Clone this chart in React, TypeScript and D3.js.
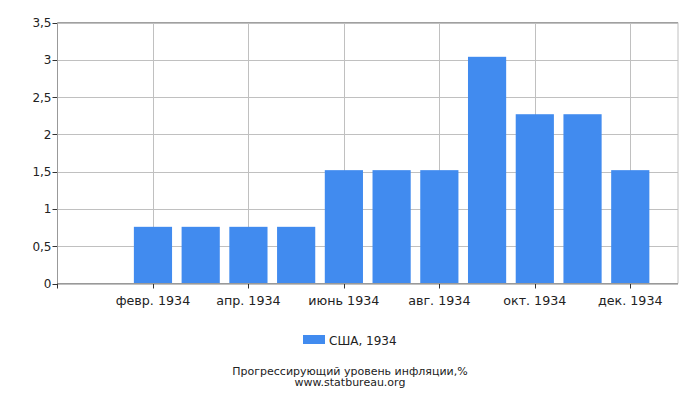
import React from "react"
import * as d3 from "d3"

const months = ["янв. 1934", "февр. 1934", "март 1934", "апр. 1934", "май 1934", "июнь 1934",
    "июль 1934", "авг. 1934", "сент. 1934", "окт. 1934", "нояб. 1934", "дек. 1934"]
const values = [0, 0.76, 0.76, 0.76, 0.76, 1.52, 1.52, 1.52, 3.04, 2.27, 2.27, 1.52]
const yTicks = [0, 0.5, 1, 1.5, 2, 2.5, 3, 3.5]
const labeledMonths = [1, 3, 5, 7, 9, 11]
const seriesName = "США, 1934"
const title = "Прогрессирующий уровень инфляции,%"
const source = "www.statbureau.org"

const W = 700, H = 400
const left = 57.5, right = 678, top = 22.5, bottom = 283.5
const barColor = "#418bef"
const font = "DejaVu Sans, sans-serif"

export default function App() {
    // months sit on a continuous axis with one empty step each side
    const x = d3.scaleLinear().domain([-1, 12]).range([left, right])
    const y = d3.scaleLinear().domain([0, 3.5]).range([bottom, top])
    const step = x(1) - x(0)
    const barW = step * 0.8
    const fmt = (v: number) => String(v).replace(".", ",")

    return (
        <svg width={W} height={H} style={{ position: "absolute", left: 0, top: 0 }} fontFamily={font}>
            <rect x={0} y={0} width={W} height={H} fill="#fff" />
            {yTicks.map(t => (
                <g key={t}>
                    <line x1={left} x2={right} y1={Math.round(y(t)) + 0.5} y2={Math.round(y(t)) + 0.5}
                        stroke="#c0c0c0" strokeWidth={1} />
                    <line x1={left - 5} x2={left} y1={Math.round(y(t)) + 0.5} y2={Math.round(y(t)) + 0.5}
                        stroke="#333" strokeWidth={1} />
                    <text x={left - 6} y={y(t) + 4.5} textAnchor="end" fontSize={12} fill="#222">{fmt(t)}</text>
                </g>
            ))}
            {labeledMonths.map(i => (
                <g key={i}>
                    <line x1={Math.round(x(i)) + 0.5} x2={Math.round(x(i)) + 0.5} y1={top} y2={bottom}
                        stroke="#c0c0c0" strokeWidth={1} />
                    <line x1={Math.round(x(i)) + 0.5} x2={Math.round(x(i)) + 0.5} y1={bottom} y2={bottom + 5}
                        stroke="#333" strokeWidth={1} />
                    <text x={x(i)} y={305} textAnchor="middle" fontSize={12.7} fill="#222">{months[i]}</text>
                </g>
            ))}
            <line x1={right} x2={right} y1={top} y2={bottom} stroke="#c0c0c0" />
            <line x1={left} x2={right} y1={top} y2={top} stroke="#a0a0a0" />
            {values.map((v, i) => v > 0 && (
                <rect key={i} x={x(i) - barW / 2} y={y(v)} width={barW} height={y(0) - y(v)} fill={barColor} />
            ))}
            <line x1={left} x2={left} y1={top} y2={bottom} stroke="#999" />
            <line x1={left} x2={right} y1={bottom} y2={bottom} stroke="#999" />
            <line x1={left} x2={left} y1={bottom} y2={bottom + 5} stroke="#333" />
            <rect x={303} y={335} width={22} height={9} fill={barColor} />
            <text x={329} y={345} fontSize={12} fill="#222">{seriesName}</text>
            <text x={350} y={374.5} textAnchor="middle" fontSize={11} fill="#222">{title}</text>
            <text x={350} y={386} textAnchor="middle" fontSize={11} fill="#222">{source}</text>
        </svg>
    )
}
